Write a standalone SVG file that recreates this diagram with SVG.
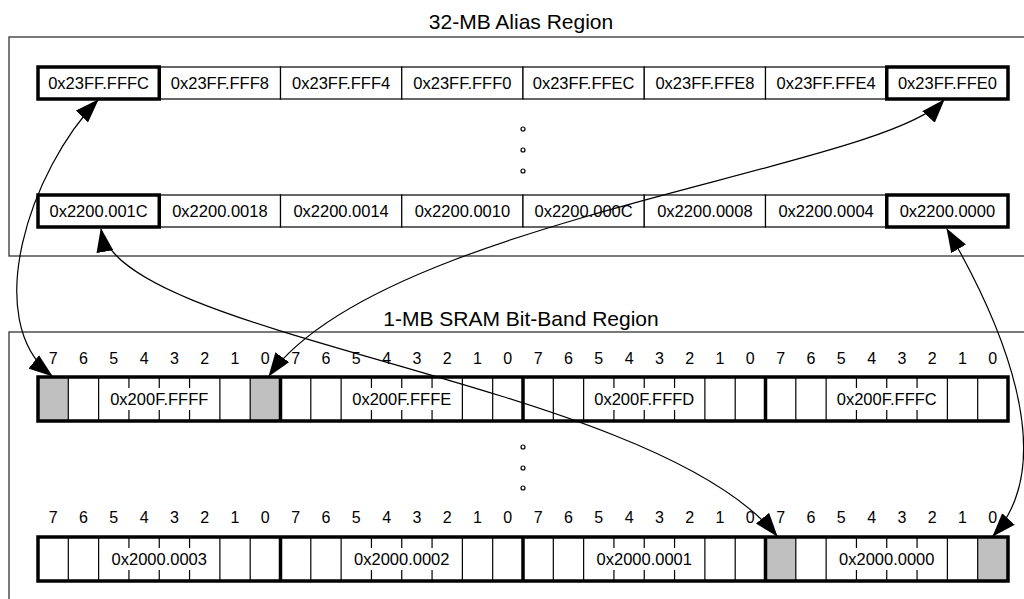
<svg xmlns="http://www.w3.org/2000/svg" xmlns:xlink="http://www.w3.org/1999/xlink" width="1024" height="599" viewBox="0 0 1024 599">
<style>
text{font-family:"Liberation Sans",Arial,sans-serif;fill:#000}
.title{font-size:21px;text-anchor:middle}
.cell{font-size:16.5px;text-anchor:middle}
.bit{font-size:16px;text-anchor:middle}
.region{fill:#fff;stroke:#333;stroke-width:1.3}
.c{fill:#fff;stroke:#000;stroke-width:1.2}
.ck{fill:none;stroke:#000;stroke-width:3.5}
.thin{stroke:#000;stroke-width:1.2}
.thick{stroke:#000;stroke-width:3.5}
.outer{fill:none;stroke:#000;stroke-width:3.5}
.grey{fill:#c0c0c0}
.dot{fill:#fff;stroke:#000;stroke-width:1.2}
.conn{fill:none;stroke:#000;stroke-width:1.2;marker-start:url(#ah);marker-end:url(#ah)}
</style>
<defs>
<marker id="ah" viewBox="0 0 24 17" refX="23" refY="8.5" markerWidth="24" markerHeight="17" markerUnits="userSpaceOnUse" orient="auto-start-reverse"><path d="M0,0 L24,8.5 L0,17 z" fill="#000"/></marker>
<g id="byteframe">
<line class="thin" x1="30.31" y1="0" x2="30.31" y2="44"/>
<line class="thin" x1="60.63" y1="0" x2="60.63" y2="44"/>
<line class="thin" x1="90.94" y1="0" x2="90.94" y2="11"/><line class="thin" x1="90.94" y1="33" x2="90.94" y2="44"/>
<line class="thin" x1="121.25" y1="0" x2="121.25" y2="11"/><line class="thin" x1="121.25" y1="33" x2="121.25" y2="44"/>
<line class="thin" x1="151.56" y1="0" x2="151.56" y2="11"/><line class="thin" x1="151.56" y1="33" x2="151.56" y2="44"/>
<line class="thin" x1="181.88" y1="0" x2="181.88" y2="44"/>
<line class="thin" x1="212.19" y1="0" x2="212.19" y2="44"/>
</g>
<g id="bitnums">
<text class="bit" x="15.16">7</text><text class="bit" x="45.47">6</text><text class="bit" x="75.78">5</text><text class="bit" x="106.1">4</text><text class="bit" x="136.4">3</text><text class="bit" x="166.7">2</text><text class="bit" x="197">1</text><text class="bit" x="227.3">0</text>
</g>
</defs>
<rect width="1024" height="599" fill="#fff"/>

<g id="alias-region">
<rect class="region" x="9" y="37" width="1030" height="219"/>
<text class="title" x="521" y="29">32-MB Alias Region</text>
</g>
<g id="alias-top">
<g id="a-23FFFFFC"><rect class="c" x="38" y="67" width="121.25" height="32"/><text class="cell" x="98.6" y="89">0x23FF.FFFC</text></g>
<g id="a-23FFFFF8"><rect class="c" x="159.25" y="67" width="121.25" height="32"/><text class="cell" x="219.9" y="89">0x23FF.FFF8</text></g>
<g id="a-23FFFFF4"><rect class="c" x="280.5" y="67" width="121.25" height="32"/><text class="cell" x="341.1" y="89">0x23FF.FFF4</text></g>
<g id="a-23FFFFF0"><rect class="c" x="401.75" y="67" width="121.25" height="32"/><text class="cell" x="462.4" y="89">0x23FF.FFF0</text></g>
<g id="a-23FFFFEC"><rect class="c" x="523" y="67" width="121.25" height="32"/><text class="cell" x="583.6" y="89">0x23FF.FFEC</text></g>
<g id="a-23FFFFE8"><rect class="c" x="644.25" y="67" width="121.25" height="32"/><text class="cell" x="704.9" y="89">0x23FF.FFE8</text></g>
<g id="a-23FFFFE4"><rect class="c" x="765.5" y="67" width="121.25" height="32"/><text class="cell" x="826.1" y="89">0x23FF.FFE4</text></g>
<g id="a-23FFFFE0"><rect class="c" x="886.75" y="67" width="121.25" height="32"/><text class="cell" x="947.4" y="89">0x23FF.FFE0</text></g>
<rect class="ck" x="38" y="67" width="121.25" height="32"/>
<rect class="ck" x="886.75" y="67" width="121.25" height="32"/>
</g>
<g id="alias-dots">
<circle class="dot" cx="523" cy="129" r="2"/><circle class="dot" cx="523" cy="150" r="2"/><circle class="dot" cx="523" cy="171" r="2"/>
</g>
<g id="alias-bottom">
<g id="a-2200001C"><rect class="c" x="38" y="195" width="121.25" height="32"/><text class="cell" x="98.6" y="217">0x2200.001C</text></g>
<g id="a-22000018"><rect class="c" x="159.25" y="195" width="121.25" height="32"/><text class="cell" x="219.9" y="217">0x2200.0018</text></g>
<g id="a-22000014"><rect class="c" x="280.5" y="195" width="121.25" height="32"/><text class="cell" x="341.1" y="217">0x2200.0014</text></g>
<g id="a-22000010"><rect class="c" x="401.75" y="195" width="121.25" height="32"/><text class="cell" x="462.4" y="217">0x2200.0010</text></g>
<g id="a-2200000C"><rect class="c" x="523" y="195" width="121.25" height="32"/><text class="cell" x="583.6" y="217">0x2200.000C</text></g>
<g id="a-22000008"><rect class="c" x="644.25" y="195" width="121.25" height="32"/><text class="cell" x="704.9" y="217">0x2200.0008</text></g>
<g id="a-22000004"><rect class="c" x="765.5" y="195" width="121.25" height="32"/><text class="cell" x="826.1" y="217">0x2200.0004</text></g>
<g id="a-22000000"><rect class="c" x="886.75" y="195" width="121.25" height="32"/><text class="cell" x="947.4" y="217">0x2200.0000</text></g>
<rect class="ck" x="38" y="195" width="121.25" height="32"/>
<rect class="ck" x="886.75" y="195" width="121.25" height="32"/>
</g>

<g id="bitband-region">
<rect class="region" x="9" y="332" width="1030" height="300"/>
<text class="title" x="521" y="326">1-MB SRAM Bit-Band Region</text>
</g>

<g id="bitband-top">
<g transform="translate(38,364)"><use xlink:href="#bitnums"/></g>
<g transform="translate(280.5,364)"><use xlink:href="#bitnums"/></g>
<g transform="translate(523,364)"><use xlink:href="#bitnums"/></g>
<g transform="translate(765.5,364)"><use xlink:href="#bitnums"/></g>
<rect x="38" y="377" width="970" height="44" fill="#fff"/>
<rect class="grey" x="38" y="377" width="30.31" height="44"/>
<rect class="grey" x="250.19" y="377" width="30.31" height="44"/>
<g id="b-200FFFFF"><use xlink:href="#byteframe" transform="translate(38,377)"/><text class="cell" x="159.25" y="405">0x200F.FFFF</text></g>
<g id="b-200FFFFE"><use xlink:href="#byteframe" transform="translate(280.5,377)"/><text class="cell" x="401.75" y="405">0x200F.FFFE</text></g>
<g id="b-200FFFFD"><use xlink:href="#byteframe" transform="translate(523,377)"/><text class="cell" x="644.25" y="405">0x200F.FFFD</text></g>
<g id="b-200FFFFC"><use xlink:href="#byteframe" transform="translate(765.5,377)"/><text class="cell" x="886.75" y="405">0x200F.FFFC</text></g>
<line class="thick" x1="280.5" y1="377" x2="280.5" y2="421"/>
<line class="thick" x1="523" y1="377" x2="523" y2="421"/>
<line class="thick" x1="765.5" y1="377" x2="765.5" y2="421"/>
<rect class="outer" x="38" y="377" width="970" height="44"/>
</g>

<g id="bitband-dots">
<circle class="dot" cx="523" cy="447" r="2"/><circle class="dot" cx="523" cy="468" r="2"/><circle class="dot" cx="523" cy="488" r="2"/>
</g>

<g id="bitband-bottom">
<g transform="translate(38,523)"><use xlink:href="#bitnums"/></g>
<g transform="translate(280.5,523)"><use xlink:href="#bitnums"/></g>
<g transform="translate(523,523)"><use xlink:href="#bitnums"/></g>
<g transform="translate(765.5,523)"><use xlink:href="#bitnums"/></g>
<rect x="38" y="537" width="970" height="44" fill="#fff"/>
<rect class="grey" x="765.5" y="537" width="30.31" height="44"/>
<rect class="grey" x="977.69" y="537" width="30.31" height="44"/>
<g id="b-20000003"><use xlink:href="#byteframe" transform="translate(38,537)"/><text class="cell" x="159.25" y="565">0x2000.0003</text></g>
<g id="b-20000002"><use xlink:href="#byteframe" transform="translate(280.5,537)"/><text class="cell" x="401.75" y="565">0x2000.0002</text></g>
<g id="b-20000001"><use xlink:href="#byteframe" transform="translate(523,537)"/><text class="cell" x="644.25" y="565">0x2000.0001</text></g>
<g id="b-20000000"><use xlink:href="#byteframe" transform="translate(765.5,537)"/><text class="cell" x="886.75" y="565">0x2000.0000</text></g>
<line class="thick" x1="280.5" y1="537" x2="280.5" y2="581"/>
<line class="thick" x1="523" y1="537" x2="523" y2="581"/>
<line class="thick" x1="765.5" y1="537" x2="765.5" y2="581"/>
<rect class="outer" x="38" y="537" width="970" height="44"/>
</g>

<g id="connectors">
<path class="conn" d="M98,100 C30,170 -20,320 52,376"/>
<path class="conn" d="M944,100 C880,170 380,220 269,376"/>
<path class="conn" d="M101,229 C120,340 650,380 777,536"/>
<path class="conn" d="M947,229 C1000,320 1062,460 993,536"/>
</g>
</svg>
